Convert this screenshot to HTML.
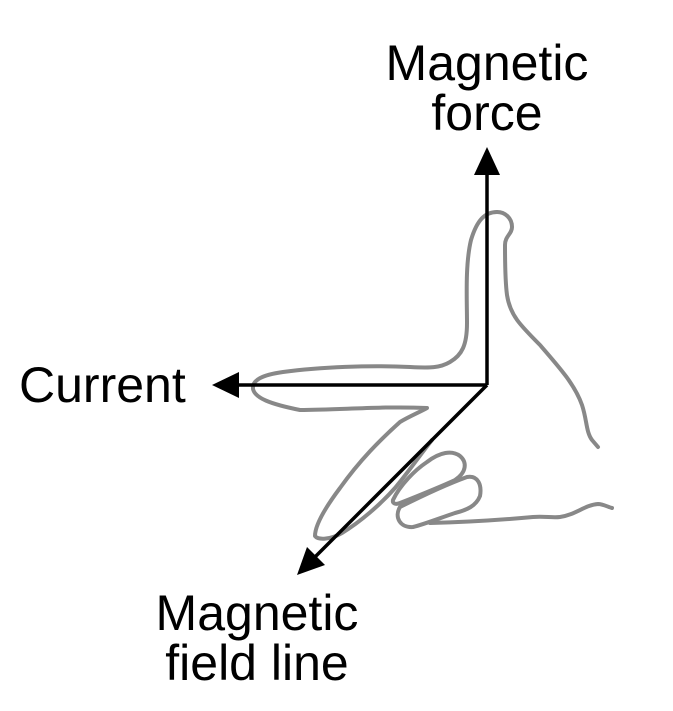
<!DOCTYPE html>
<html><head><meta charset="utf-8"><style>
html,body{margin:0;padding:0;background:#fff;}
svg{display:block}
text{font-family:"Liberation Sans",Arial,sans-serif;font-size:50px;fill:#000}
</style></head><body>
<svg width="673" height="711" viewBox="0 0 673 711" xmlns="http://www.w3.org/2000/svg">
<g fill="none" stroke="#888" stroke-width="4" stroke-linecap="round" stroke-linejoin="round">
<path d="M497,212 C485,212 477,220 471,240 C465,265 467,300 467,323 C467,345 462,355 450,362 C440,368 430,368 410,367 C370,365 320,367 283,372 C262,375 252,380 253,389 C255,398 270,404 300,410 C340,410 380,406 427,408 C420,412 410,416 400,422 C380,440 360,460 340,488 C325,508 315,525 315,536 C318,540 330,540 342,533 C360,522 380,505 395,488 C410,470 420,455 432,440"/>
<path d="M497,212 C505,212 512,218 512,227 C512,234 505,236 505,245 C505,260 505,280 507,295 C510,315 520,325 540,345 C560,368 575,385 582,405 C587,420 586,432 592,440 L598,447"/>
<path d="M393,500 C400,485 415,470 427,462 C440,452 452,450 460,456 C467,462 467,472 455,480 C440,487 420,495 400,503 C395,505 392,503 393,500 Z"/>
<path d="M400,507 C420,497 445,485 467,477 C478,475 482,485 480,496 C476,506 467,510 455,513 C440,518 425,524 413,527 C400,528 394,517 400,507 Z"/>
<path d="M430,523 C470,522 500,520 533,517 C545,516 552,518 560,517 C575,515 585,505 598,504 C603,504 608,507 612,508"/>
</g>
<g stroke="#000" stroke-width="3.5" fill="none">
<line x1="487" y1="385" x2="487" y2="170"/>
<line x1="487" y1="385" x2="236" y2="385"/>
<line x1="487" y1="385" x2="314" y2="558"/>
</g>
<g fill="#000">
<polygon points="487,147 474,175 500,175"/>
<polygon points="212,385 239,372 239,398"/>
<polygon points="297,575 307,547 325,565"/>
</g>
<text x="487" y="80" text-anchor="middle">Magnetic</text>
<text x="487" y="130" text-anchor="middle">force</text>
<text x="19" y="402">Current</text>
<text x="257" y="630" text-anchor="middle">Magnetic</text>
<text x="257" y="680" text-anchor="middle">field line</text>
</svg>
</body></html>
